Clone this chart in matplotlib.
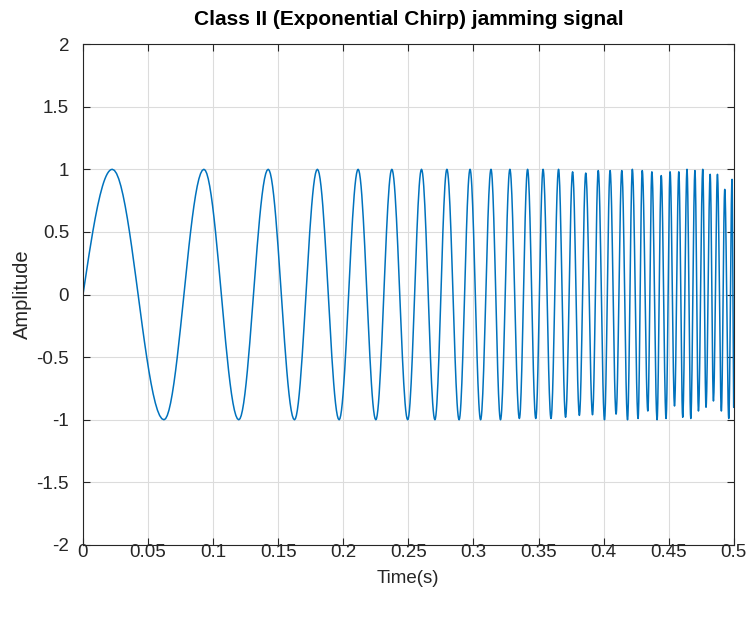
import numpy as np
import matplotlib
matplotlib.use("Agg")
import matplotlib.pyplot as plt

plt.rcParams['font.family'] = ['Liberation Sans', 'DejaVu Sans']

# Extrema of the chirp (time in s, amplitude)
peak_t = [0.0225, 0.0622, 0.0929, 0.1197, 0.1423, 0.1625, 0.1801, 0.1968,
          0.2114, 0.2250, 0.2373, 0.2495, 0.2601, 0.2704, 0.2796, 0.2890,
          0.2974, 0.3055, 0.3135, 0.3208, 0.3280, 0.3353, 0.3416, 0.3479,
          0.3535, 0.3596, 0.3654, 0.3708, 0.3762, 0.3814, 0.3863, 0.3915,
          0.3959, 0.4007, 0.4050, 0.4096, 0.4140, 0.4184, 0.4221, 0.4265,
          0.4297, 0.4340, 0.4371, 0.4411, 0.4443, 0.4480, 0.4511, 0.4545,
          0.4578, 0.4608, 0.4641, 0.4670, 0.4702, 0.4729, 0.4762, 0.4787,
          0.4819, 0.4844, 0.4875, 0.4905, 0.4931, 0.4962, 0.4987]
peak_v = [1.0, -1.0, 1.0, -1.0, 1.0, -1.0, 1.0, -1.0,
          1.0, -1.0, 1.0, -1.0, 1.0, -1.0, 1.0, -1.0,
          1.0, -1.0, 1.0, -1.0, 1.0, -0.99, 1.0, -0.99,
          1.0, -0.99, 1.0, -0.98, 0.98, -0.965, 0.97, -0.96,
          0.99, -1.0, 0.99, -0.955, 0.99, -1.0, 1.0, -0.99,
          0.99, -0.93, 0.98, -1.0, 0.95, -0.99, 0.98, -0.89,
          0.98, -0.98, 1.0, -0.99, 0.99, -0.93, 1.0, -0.90,
          0.96, -0.85, 0.96, -0.93, 0.84, -0.99, 0.92]
start_t, start_v = 0.0, 0.0
end_t, end_v = 0.5, -0.9

x_ticks = [0, 0.05, 0.1, 0.15, 0.2, 0.25, 0.3, 0.35, 0.4, 0.45, 0.5]
x_labels = ["0", "0.05", "0.1", "0.15", "0.2", "0.25", "0.3", "0.35", "0.4", "0.45", "0.5"]
y_ticks = [-2, -1.5, -1, -0.5, 0, 0.5, 1, 1.5, 2]
y_labels = ["-2", "-1.5", "-1", "-0.5", "0", "0.5", "1", "1.5", "2"]

# build smooth curve through the extrema (half cosine between each pair)
ts = [start_t] + peak_t + [end_t]
vs = [start_v] + peak_v + [end_v]
t_all, y_all = [], []
for i in range(len(ts) - 1):
    s = np.linspace(0, 1, 25)
    tt = ts[i] + (ts[i + 1] - ts[i]) * s
    if i == 0:
        yy = vs[1] * np.sin(np.pi * s / 2)
    else:
        yy = vs[i] + (vs[i + 1] - vs[i]) * (1 - np.cos(np.pi * s)) / 2
    t_all.append(tt[:-1] if i < len(ts) - 2 else tt)
    y_all.append(yy[:-1] if i < len(ts) - 2 else yy)
t_all = np.concatenate(t_all)
y_all = np.concatenate(y_all)

fig = plt.figure(figsize=(7.51, 6.21), dpi=100)
ax = fig.add_axes([0.1105, 0.1224, 0.8665, 0.8066])

ax.plot(t_all, y_all, color="#0072BD", linewidth=1.1)

ax.set_xlim(0, 0.5)
ax.set_ylim(-2, 2)
ax.set_xticks(x_ticks, x_labels)
ax.set_yticks(y_ticks, y_labels)
ax.grid(True, color="#dcdcdc", linewidth=0.8)
ax.tick_params(direction="in", top=True, right=True, labelsize=13.5, colors="#262626", length=5)
ax.tick_params(axis="x", pad=-1)
ax.tick_params(axis="y", pad=10)
for sp in ax.spines.values():
    sp.set_color("#262626")
    sp.set_linewidth(0.8)

ax.set_xlabel("Time(s)", fontsize=13.5, color="#262626", labelpad=7)
ax.set_ylabel("Amplitude", fontsize=14.5, color="#262626", labelpad=3)
ax.set_title("Class II (Exponential Chirp) jamming signal", fontsize=15, fontweight="bold", color="#000000", pad=14)

fig.savefig("out.png", dpi=100)
